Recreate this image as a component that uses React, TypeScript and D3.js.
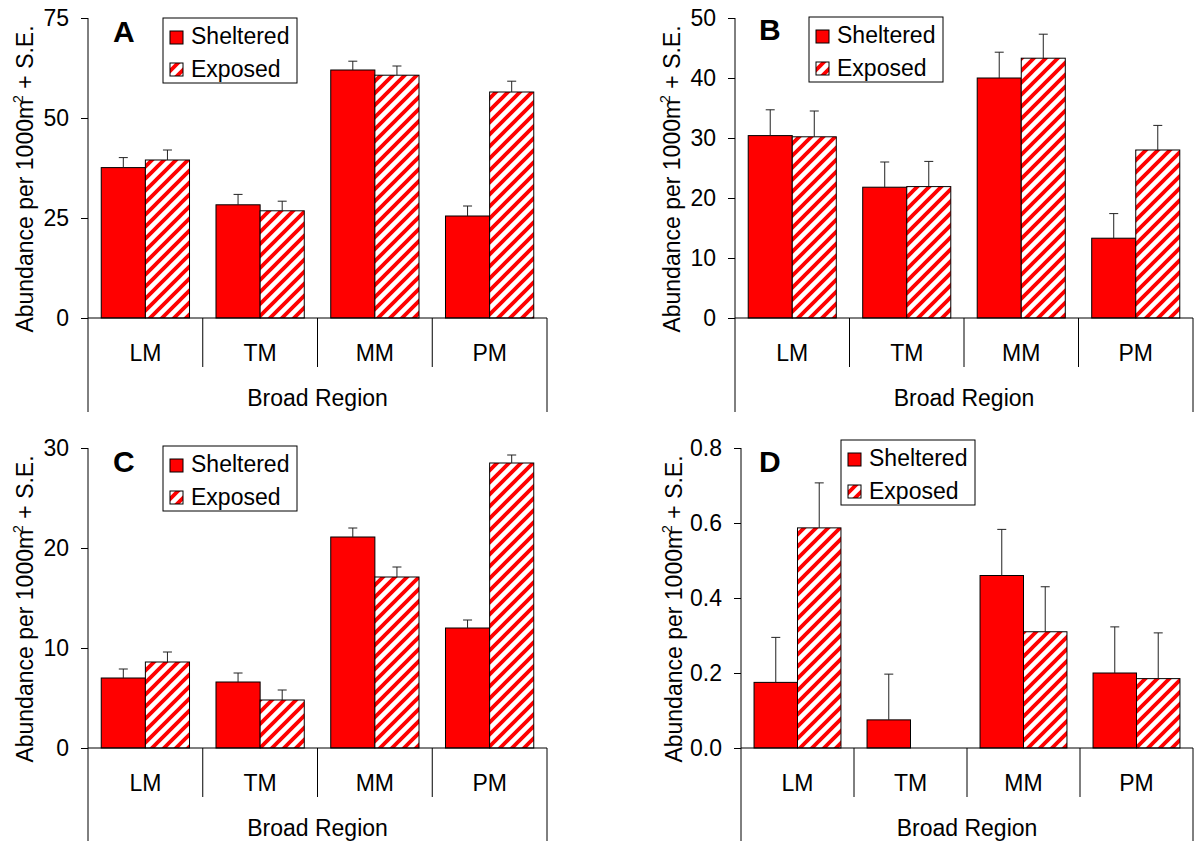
import React, { useEffect, useRef } from "react";
import * as d3 from "d3";

const regions = ["LM", "TM", "MM", "PM"];
const series = ["Sheltered", "Exposed"];

// panel A
const shelteredA = [37.6, 28.3, 62.0, 25.5];
const shelteredSeA = [2.5, 2.6, 2.2, 2.5];
const exposedA = [39.5, 26.8, 60.7, 56.5];
const exposedSeA = [2.5, 2.4, 2.3, 2.7];
const ticksA = [0, 25, 50, 75];

// panel B
const shelteredB = [30.4, 21.8, 40.0, 13.3];
const shelteredSeB = [4.3, 4.2, 4.3, 4.1];
const exposedB = [30.2, 21.9, 43.3, 28.0];
const exposedSeB = [4.3, 4.2, 4.0, 4.1];
const ticksB = [0, 10, 20, 30, 40, 50];

// panel C
const shelteredC = [7.0, 6.6, 21.1, 12.0];
const shelteredSeC = [0.9, 0.9, 0.9, 0.8];
const exposedC = [8.6, 4.8, 17.1, 28.5];
const exposedSeC = [1.0, 1.0, 1.0, 0.8];
const ticksC = [0, 10, 20, 30];

// panel D
const shelteredD = [0.175, 0.075, 0.46, 0.2];
const shelteredSeD = [0.12, 0.122, 0.123, 0.123];
const exposedD = [0.587, 0, 0.31, 0.185];
const exposedSeD = [0.12, 0, 0.12, 0.122];
const ticksD = [0, 0.2, 0.4, 0.6, 0.8];

const FONT = "'Liberation Sans', Arial, Helvetica, sans-serif";
const RED = "#ff0000";

const panels = [
  { title: "A", s: shelteredA, sSe: shelteredSeA, e: exposedA, eSe: exposedSeA, ticks: ticksA, fmt: d3.format("d"),
    left: 88, right: 547, top: 18, zero: 318, labelX: 33, titleX: 113, titleY: 42, legX: 163, legY: 18 },
  { title: "B", s: shelteredB, sSe: shelteredSeB, e: exposedB, eSe: exposedSeB, ticks: ticksB, fmt: d3.format("d"),
    left: 735, right: 1193, top: 18, zero: 318, labelX: 680, titleX: 759, titleY: 40, legX: 809, legY: 17 },
  { title: "C", s: shelteredC, sSe: shelteredSeC, e: exposedC, eSe: exposedSeC, ticks: ticksC, fmt: d3.format("d"),
    left: 88, right: 547, top: 448, zero: 748, labelX: 33, titleX: 113, titleY: 472, legX: 163, legY: 446 },
  { title: "D", s: shelteredD, sSe: shelteredSeD, e: exposedD, eSe: exposedSeD, ticks: ticksD, fmt: d3.format(".1f"),
    left: 741, right: 1193, top: 448, zero: 748, labelX: 682, titleX: 759, titleY: 472, legX: 841, legY: 440 },
];

function drawPanel(svg, p) {
  const g = svg.append("g").attr("font-family", FONT);
  const bottom = p.zero + 94;

  const y = d3.scaleLinear().domain([0, d3.max(p.ticks)]).range([p.zero, p.top]);
  const x = d3.scaleBand().domain(regions).range([p.left, p.right]);
  const xs = d3.scaleBand().domain(series).range([0, x.bandwidth()]).paddingOuter(0.3);

  const rows = regions.flatMap((r, i) => [
    { region: r, key: "Sheltered", value: p.s[i], se: p.sSe[i] },
    { region: r, key: "Exposed", value: p.e[i], se: p.eSe[i] },
  ]).filter(d => d.value > 0);

  // bars
  g.selectAll("rect.bar")
    .data(rows)
    .enter()
    .append("rect")
    .attr("class", "bar")
    .attr("x", d => x(d.region) + xs(d.key))
    .attr("y", d => y(d.value))
    .attr("width", xs.bandwidth())
    .attr("height", d => y(0) - y(d.value))
    .attr("fill", d => d.key === "Sheltered" ? RED : "url(#hatch)")
    .attr("stroke", "#000")
    .attr("stroke-width", 1);

  // error bars (upper only)
  const eb = g.selectAll("g.err").data(rows).enter().append("g").attr("class", "err")
    .attr("stroke", "#222").attr("stroke-width", 1);
  const cx = d => x(d.region) + xs(d.key) + xs.bandwidth() / 2;
  eb.append("line")
    .attr("x1", cx).attr("x2", cx)
    .attr("y1", d => y(d.value)).attr("y2", d => y(d.value + d.se));
  eb.append("line")
    .attr("x1", d => cx(d) - 4.5).attr("x2", d => cx(d) + 4.5)
    .attr("y1", d => y(d.value + d.se)).attr("y2", d => y(d.value + d.se));

  // y axis
  const yAxis = d3.axisLeft(y).tickValues(p.ticks).tickFormat(p.fmt).tickSize(7).tickPadding(12);
  const ya = g.append("g").attr("transform", `translate(${p.left},0)`).call(yAxis);
  ya.select(".domain").remove();
  ya.selectAll("text").attr("font-size", 23).attr("font-family", FONT).attr("fill", "#000");
  ya.selectAll("line").attr("stroke", "#000");

  g.append("line").attr("x1", p.left).attr("x2", p.left).attr("y1", p.top).attr("y2", bottom).attr("stroke", "#000");
  g.append("line").attr("x1", p.left).attr("x2", p.right).attr("y1", p.zero).attr("y2", p.zero).attr("stroke", "#000");
  g.append("line").attr("x1", p.right).attr("x2", p.right).attr("y1", p.zero).attr("y2", bottom).attr("stroke", "#000");

  // category separators
  g.selectAll("line.sep")
    .data(regions.slice(1))
    .enter()
    .append("line")
    .attr("class", "sep")
    .attr("x1", d => x(d)).attr("x2", d => x(d))
    .attr("y1", p.zero).attr("y2", p.zero + 49)
    .attr("stroke", "#000");

  g.selectAll("text.cat")
    .data(regions)
    .enter()
    .append("text")
    .attr("class", "cat")
    .attr("x", d => x(d) + x.bandwidth() / 2)
    .attr("y", p.zero + 43)
    .attr("text-anchor", "middle")
    .attr("font-size", 23)
    .text(d => d);

  g.append("text")
    .attr("x", (p.left + p.right) / 2)
    .attr("y", p.zero + 88)
    .attr("text-anchor", "middle")
    .attr("font-size", 23)
    .text("Broad Region");

  // y label
  const yl = g.append("text")
    .attr("transform", `translate(${p.labelX},${p.zero - 139}) rotate(-90)`)
    .attr("text-anchor", "middle")
    .attr("font-size", 23);
  yl.append("tspan").text("Abundance per 1000m");
  yl.append("tspan").attr("font-size", 14).attr("dy", -10).attr("dx", -3).text("2");
  yl.append("tspan").attr("dy", 10).text(" + S.E.");

  // panel letter
  g.append("text")
    .attr("x", p.titleX).attr("y", p.titleY)
    .attr("font-size", 30).attr("font-weight", "bold")
    .text(p.title);

  // legend
  const lg = g.append("g").attr("transform", `translate(${p.legX},${p.legY})`);
  lg.append("rect").attr("width", 134).attr("height", 65).attr("fill", "#fff").attr("stroke", "#000");
  series.forEach((s, i) => {
    lg.append("rect")
      .attr("x", 7).attr("y", 13 + i * 32)
      .attr("width", 13).attr("height", 13)
      .attr("fill", i === 0 ? RED : "url(#hatch)")
      .attr("stroke", "#000");
    lg.append("text")
      .attr("x", 28).attr("y", 26 + i * 33)
      .attr("font-size", 23)
      .text(s);
  });
}

export default function App() {
  const ref = useRef(null);

  useEffect(() => {
    const svg = d3.select(ref.current);
    svg.selectAll("*").remove();

    const defs = svg.append("defs");
    const pat = defs.append("pattern")
      .attr("id", "hatch")
      .attr("patternUnits", "userSpaceOnUse")
      .attr("width", 12)
      .attr("height", 12);
    pat.append("rect").attr("width", 12).attr("height", 12).attr("fill", "#fff");
    pat.append("path")
      .attr("d", "M-3,3 L3,-3 M0,12 L12,0 M9,15 L15,9")
      .attr("stroke", RED)
      .attr("stroke-width", 3.8);

    panels.forEach(p => drawPanel(svg, p));
  }, []);

  return (
    <svg
      ref={ref}
      width={1194}
      height={841}
      style={{ position: "absolute", left: 0, top: 0, background: "#fff" }}
    />
  );
}
